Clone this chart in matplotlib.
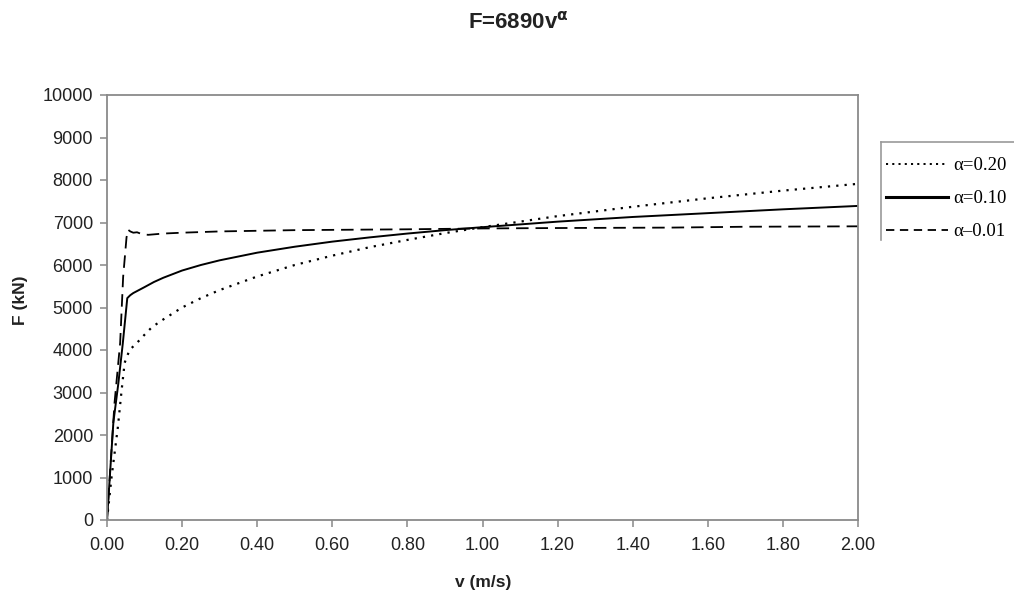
import matplotlib
matplotlib.use("Agg")
import matplotlib.pyplot as plt
from matplotlib.lines import Line2D

plt.rcParams['font.family'] = ['Liberation Sans', 'DejaVu Sans']
plt.rcParams['lines.scale_dashes'] = False

# ---- data ----
v_a20 = [0, 0.012, 0.029, 0.039, 0.047, 0.060, 0.080, 0.100, 0.120, 0.150, 0.200,
         0.250, 0.300, 0.400, 0.500, 0.600, 0.700, 0.800, 0.900, 1.000, 1.200,
         1.400, 1.600, 1.800, 2.000]
F_a20 = [0, 1000, 2190, 3060, 3700, 4000, 4170, 4360, 4540, 4720, 5000,
         5220, 5410, 5730, 6000, 6220, 6420, 6590, 6750, 6890, 7150,
         7370, 7570, 7750, 7910]

v_a10 = [0, 0.017, 0.030, 0.042, 0.054, 0.062, 0.070, 0.085, 0.100, 0.125, 0.150,
         0.200, 0.250, 0.300, 0.400, 0.500, 0.600, 0.700, 0.800, 0.900, 1.000,
         1.200, 1.400, 1.600, 1.800, 2.000]
F_a10 = [0, 2300, 3200, 4150, 5220, 5290, 5340, 5410, 5480, 5600, 5700,
         5870, 6000, 6110, 6290, 6430, 6550, 6650, 6740, 6820, 6890,
         7020, 7130, 7220, 7310, 7390]

v_a01 = [0, 0.020, 0.035, 0.043, 0.052, 0.056, 0.062, 0.070, 0.080, 0.095,
         0.110, 0.150, 0.200, 0.300, 0.500, 0.800, 1.000, 1.200, 1.500,
         1.700, 2.000]
F_a01 = [0, 2750, 4165, 5720, 6650, 6830, 6790, 6760, 6770, 6720,
         6710, 6740, 6760, 6790, 6820, 6840, 6860, 6870, 6880,
         6900, 6910]

labels = ["\u03b1=0.20", "\u03b1=0.10", "\u03b1\u20130.01"]
x_ticks = [0.0, 0.2, 0.4, 0.6, 0.8, 1.0, 1.2, 1.4, 1.6, 1.8, 2.0]
y_ticks = list(range(0, 10001, 1000))

W, H = 1014, 595
fig = plt.figure(figsize=(W / 100, H / 100), dpi=100)
ax = fig.add_axes([107 / W, 1 - 520 / H, (858 - 107) / W, (520 - 95) / H])

dot_style = (0, (1.6, 4.4))
dash_style = (0, (9, 5))
l1, = ax.plot(v_a20, F_a20, color='black', lw=1.6, linestyle=dot_style)
l2, = ax.plot(v_a10, F_a10, color='black', lw=1.4, linestyle='-')
l3, = ax.plot(v_a01, F_a01, color='black', lw=1.3, linestyle=dash_style)

ax.set_xlim(0, 2.0)
ax.set_ylim(0, 10000)
ax.set_xticks(x_ticks)
ax.set_xticklabels([f"{t:.2f}" for t in x_ticks])
ax.set_yticks(y_ticks)
ax.set_yticklabels([str(t) for t in y_ticks])
ax.tick_params(axis='both', direction='out', length=5, width=1.1,
               color='#888888', labelsize=13, labelcolor='#222222')
ax.tick_params(axis='y', pad=5)
ax.tick_params(axis='x', pad=7)
for s in ax.spines.values():
    s.set_color('#8a8a8a')
    s.set_linewidth(1.3)

fig.text(20 / W, 1 - 300 / H, "F (kN)", rotation=90, ha='center', va='center',
         fontsize=12.5, fontweight='bold', color='#222222')
fig.text(483 / W, 1 - 582 / H, "v (m/s)", ha='center', va='center',
         fontsize=12.5, fontweight='bold', color='#222222')
fig.text(518 / W, 1 - 22 / H, r"F=6890v$^{\mathbf{\alpha}}$", ha='center', va='center',
         fontsize=16, fontweight='bold', color='#222222')

# legend (box border only on top and left, cut at figure edge, as in reference)
leg = ax.legend([Line2D([], [], color='black', lw=1.4, linestyle=(0, (1.5, 3))),
                 Line2D([], [], color='black', lw=2.2, linestyle='-'),
                 Line2D([], [], color='black', lw=1.3, linestyle=(0, (6, 4)))],
                labels,
                loc='upper left', bbox_to_anchor=(886 / W, 1 - 157 / H),
                bbox_transform=fig.transFigure, frameon=False,
                borderaxespad=0, handlelength=3.3, handletextpad=0.3,
                labelspacing=0.85, borderpad=0,
                prop={'family': ['Liberation Serif', 'DejaVu Serif'], 'size': 13.5})
fig.add_artist(Line2D([881 / W, 1.0], [1 - 142 / H, 1 - 142 / H],
                      transform=fig.transFigure, color='#9a9a9a', lw=1.2))
fig.add_artist(Line2D([881 / W, 881 / W], [1 - 142 / H, 1 - 240 / H],
                      transform=fig.transFigure, color='#9a9a9a', lw=1.2))

fig.savefig('out.png', dpi=100)
